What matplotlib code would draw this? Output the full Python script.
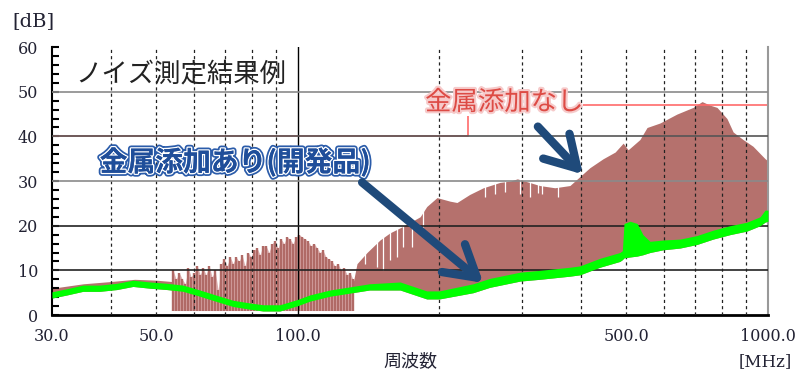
import numpy as np
import matplotlib.pyplot as plt
import matplotlib.patheffects as pe
from matplotlib.ticker import FixedLocator, MultipleLocator, NullLocator

plt.rcParams['font.family'] = ['DejaVu Serif']
JP = ['Noto Sans CJK JP', 'DejaVu Sans']

# brown trace: sample without metal (upper envelope, MHz / dB)
brown_freq = [30, 35, 40, 45, 50, 54, 60, 70, 80, 90, 100, 110, 120, 131,
              133.6, 140.3, 149.5, 157, 167, 182, 188, 197.7, 210.7, 218,
              232, 248, 269, 283, 293, 304, 327, 352, 379, 398, 418, 446,
              473, 492, 504, 534, 553, 589, 640, 693, 724, 753, 779, 818,
              843, 885, 929, 986, 1000]
brown_top = [6, 7, 7.5, 8, 7.8, 7.5, 6.5, 5, 3.5, 3, 4, 5, 6, 7,
             11.5, 14, 16.8, 18.4, 19.8, 22, 24.3, 26.3, 25.5, 25.2,
             27, 28.5, 29.7, 30, 30.5, 30, 29, 28.5, 29, 31, 33, 35,
             36.5, 38.5, 37, 39.3, 42, 43, 45, 46.5, 47.8, 47, 46.5, 44,
             41, 39.3, 37.8, 35, 34.5]

# comb of spikes between 54 and 131 MHz
comb_freq = [54.3, 55.1, 55.9, 56.8, 57.6, 58.5, 59.3, 60.2, 61.1, 62.0,
             62.9, 63.8, 64.8, 65.7, 66.7, 67.7, 68.7, 69.7, 70.7, 71.8,
             72.8, 73.9, 75.0, 76.1, 77.2, 78.4, 79.5, 80.7, 81.9, 83.1,
             84.3, 85.6, 86.8, 88.1, 89.4, 90.8, 92.1, 93.5, 94.8, 96.2,
             97.7, 99.1, 100.6, 102.1, 103.6, 105.1, 106.7, 108.3, 109.9, 111.5,
             113.1, 114.8, 116.5, 118.2, 120.0, 121.8, 123.6, 125.4, 127.3, 129.1,
             131.0]
comb_top = [10, 8, 9.5, 8, 7, 10.5, 8.5, 9.5, 11, 9,
            10.5, 9, 11, 8.5, 10, 5.5, 11.5, 12.5, 11, 13,
            11.5, 13, 12, 13.5, 11, 14, 13, 14.5, 15, 13.5,
            15.5, 15.5, 14, 16, 16.5, 15, 17, 16, 17.5, 17,
            16, 17.5, 18, 17.5, 17, 16.5, 15.5, 16, 15, 14,
            14.5, 13, 12.5, 12, 11, 11.5, 10, 10.5, 9, 9.5,
            8]

# white gaps cutting down into the brown trace
notch_freq = [139, 147, 152, 157, 162.5, 167, 175, 184.6,
              250, 263, 276, 297, 312, 324, 331, 358]
notch_bottom = [11.5, 10.8, 10, 12.4, 13, 15.3, 15.3, 19.8,
                26.5, 27, 27.5, 27, 26.5, 27.4, 27, 26.5]

# green trace: sample with metal (lower / upper edge of the noisy band)
green_freq = [30, 32.3, 34.9, 37.9, 41.2, 44.6, 48.5, 52.7, 57, 61.9,
              67.3, 72.8, 79.1, 84.3, 91.6, 100, 106, 117, 129, 142,
              165, 188, 200, 236, 256, 297, 327, 379, 398, 439,
              484, 490, 494, 509, 527, 542, 561, 598, 650, 706,
              764, 830, 902, 962, 986, 1000]
green_lo = [3.8, 4.5, 5.3, 5.3, 5.7, 6.4, 6.0, 5.7, 5.3, 4.2,
            3.0, 1.9, 1.3, 0.9, 0.9, 2.1, 3.1, 4.2, 4.9, 5.6,
            5.6, 3.6, 3.6, 5.0, 6.2, 7.6, 8.0, 8.7, 9.0, 10.7,
            12.0, 12.4, 12.8, 13.0, 13.2, 13.5, 14.0, 14.6, 15.0, 15.8,
            17.0, 18.0, 18.8, 20.0, 20.8, 21]
green_hi = [5.2, 5.9, 6.7, 6.7, 7.1, 7.8, 7.4, 7.1, 6.7, 5.6,
            4.4, 3.3, 2.7, 2.3, 2.3, 3.5, 4.5, 5.6, 6.3, 7.0,
            7.4, 5.4, 5.4, 7.0, 8.2, 9.6, 10.0, 10.7, 11.0, 12.7,
            14.0, 14.4, 20.5, 21, 20.5, 18, 16.5, 16.8, 17.0, 17.8,
            19.0, 20.0, 20.8, 22.0, 23.5, 23.5]

# limit line (dB)
lim_freq = [30, 230, 230, 1000]
lim_db = [40, 40, 47, 47]

xticks = [30, 50, 100, 500, 1000]
xtick_labels = ['30.0', '50.0', '100.0', '500.0', '1000.0']
dotted_grid = [40, 50, 60, 70, 80, 90, 200, 300, 400, 500, 600, 700, 800, 900]
hgrid = [10, 20, 30, 40, 50]
hgrid_colors = ['#222222', '#222222', '#8a8a8a', '#555555', '#8a8a8a']

fig = plt.figure(figsize=(8, 3.8), dpi=100)
ax = fig.add_axes([0.065, 0.171, 0.895, 0.705])
ax.set_xscale('log')
ax.set_xlim(30, 1000)
ax.set_ylim(0, 60)

ax.fill_between(brown_freq, 0, brown_top, color='#b5716d', lw=0, zorder=1)
ax.fill_between(green_freq, 0, green_lo, color='white', lw=0, zorder=1.2)
ax.vlines(notch_freq, notch_bottom, 40, color='white', lw=0.9, zorder=1.3)
ax.fill_between(comb_freq, 1, comb_top, color='#dcaeae', lw=0, zorder=1.4)
ax.vlines(comb_freq, 1, comb_top, color='#b06a66', lw=1.7, zorder=1.5)

for v in dotted_grid:
    ax.axvline(v, color='#222222', lw=0.9, ls=(0, (2.5, 2.5)), zorder=2.6)
ax.axvline(100, color='black', lw=1.0, zorder=2.6)
for y, c in zip(hgrid, hgrid_colors):
    ax.axhline(y, color=c, lw=1.2, zorder=2.6)

ax.plot(lim_freq, lim_db, color='#ff6b6b', lw=1.2, zorder=2.3)
ax.fill_between(green_freq, green_lo, green_hi, color='#00ff00', lw=0,
                zorder=3)

# labels inside the plot
ax.text(33.6, 54, 'ノイズ測定結果例', fontsize=19, family=JP,
        color='#222222', va='center', ha='left', zorder=5)
ax.text(186.5, 47.6, '金属添加なし', fontsize=19, family=JP, color='none',
        va='center', ha='left', zorder=2.4,
        bbox=dict(facecolor='white', edgecolor='none', pad=0))
ax.text(186.5, 47.6, '金属添加なし', fontsize=19, family=JP, color='#dd4b45',
        va='center', ha='left', zorder=5,
        path_effects=[pe.withStroke(linewidth=3, foreground='#f6caca')])
ax.text(37.9, 34.2, '金属添加あり(開発品)', fontsize=20, family=JP,
        weight='bold', color='#1f4e9a', va='center', ha='left', zorder=5,
        path_effects=[pe.withStroke(linewidth=4.5, foreground='#2b5caa'),
                      pe.withStroke(linewidth=2, foreground='white'),
                      pe.Normal()])

arrow = dict(arrowstyle='->,head_length=1.1,head_width=0.65', lw=6,
             color='#1f4a7a', shrinkA=0, shrinkB=0, mutation_scale=20,
             capstyle='round', joinstyle='round')
ax.annotate('', xy=(404, 31.5), xytext=(324, 42.2), arrowprops=arrow, zorder=6)
ax.annotate('', xy=(248, 7.2), xytext=(137, 29.7), arrowprops=arrow, zorder=6)

# axes styling
ax.xaxis.set_major_locator(FixedLocator(xticks))
ax.xaxis.set_minor_locator(NullLocator())
ax.set_xticklabels(xtick_labels)
ax.yaxis.set_major_locator(MultipleLocator(10))
ax.yaxis.set_minor_locator(MultipleLocator(2))
ax.tick_params(axis='x', length=0, pad=9, labelsize=11.5, labelcolor='#222233')
ax.tick_params(axis='y', which='both', direction='in', length=5, width=1.5,
               pad=10, labelsize=11.5, labelcolor='#222233')
ax.spines['top'].set_visible(False)
ax.spines['left'].set_linewidth(1.5)
ax.spines['bottom'].set_linewidth(2)
ax.spines['right'].set_color('#999999')
ax.spines['right'].set_linewidth(1.5)

fig.text(12 / 800, 1 - 21 / 380, '[dB]', fontsize=14, va='center', ha='left',
         color='#222233')
fig.text(765 / 800, 1 - 362 / 380, '[MHz]', fontsize=12, va='center',
         ha='center', color='#222233')
fig.text(410 / 800, 1 - 361 / 380, '周波数', fontsize=13, family=JP,
         va='center', ha='center', color='#222233')

fig.savefig('out.png', dpi=100)
